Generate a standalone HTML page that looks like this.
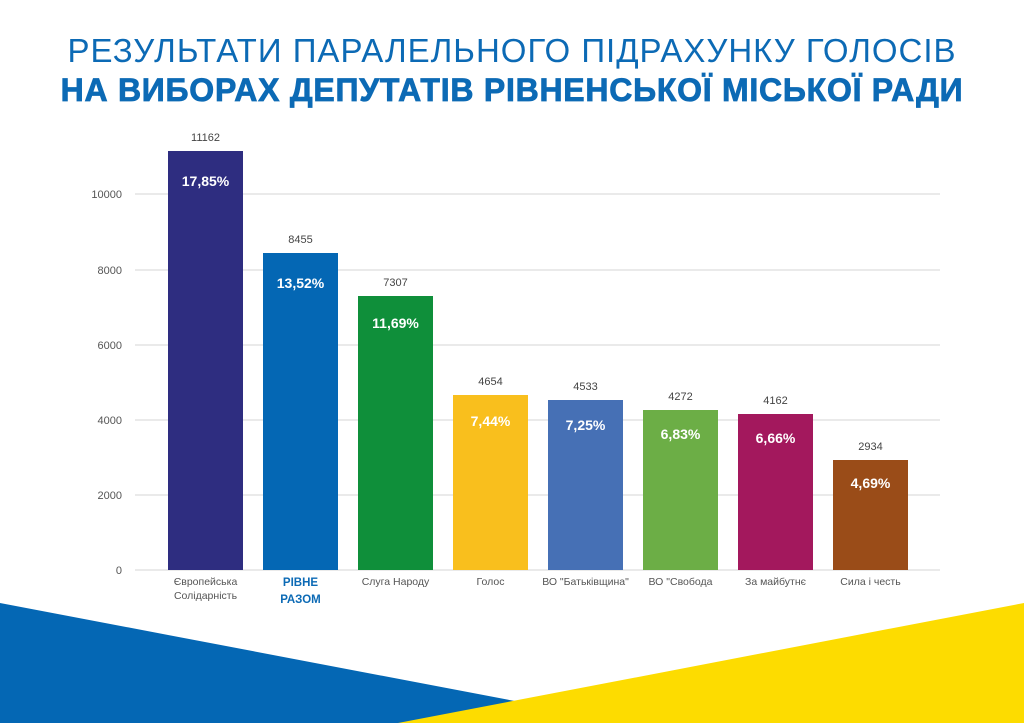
<!DOCTYPE html>
<html><head><meta charset="utf-8"><style>
body{margin:0;background:#fff}
svg{display:block}
text{font-family:"Liberation Sans","DejaVu Sans",sans-serif}
</style></head><body>
<svg width="1024" height="723" viewBox="0 0 1024 723" xmlns="http://www.w3.org/2000/svg">
<rect width="1024" height="723" fill="#fff"/>
<text x="512" y="62" text-anchor="middle" font-size="33" fill="#0c6ab5" letter-spacing="1">РЕЗУЛЬТАТИ ПАРАЛЕЛЬНОГО ПІДРАХУНКУ ГОЛОСІВ</text>
<text x="512" y="101" text-anchor="middle" font-size="32" font-weight="bold" fill="#0c6ab5" stroke="#0c6ab5" stroke-width="0.8" letter-spacing="0.75">НА ВИБОРАХ ДЕПУТАТІВ РІВНЕНСЬКОЇ МІСЬКОЇ РАДИ</text>
<g stroke="#e3e3e3" stroke-width="1.5">
<line x1="135" x2="940" y1="570" y2="570"/>
<line x1="135" x2="940" y1="495" y2="495"/>
<line x1="135" x2="940" y1="420" y2="420"/>
<line x1="135" x2="940" y1="345" y2="345"/>
<line x1="135" x2="940" y1="270" y2="270"/>
<line x1="135" x2="940" y1="194" y2="194"/>
</g>
<g font-size="11" fill="#555" text-anchor="end">
<text x="122" y="574">0</text>
<text x="122" y="499">2000</text>
<text x="122" y="424">4000</text>
<text x="122" y="349">6000</text>
<text x="122" y="274">8000</text>
<text x="122" y="198">10000</text>
</g>
<g>
<rect x="168" y="151" width="75" height="419" fill="#2e2d80"/>
<rect x="263" y="253" width="75" height="317" fill="#0467b4"/>
<rect x="358" y="296" width="75" height="274" fill="#0f8f3a"/>
<rect x="453" y="395" width="75" height="175" fill="#f9bf1d"/>
<rect x="548" y="400" width="75" height="170" fill="#4670b5"/>
<rect x="643" y="410" width="75" height="160" fill="#6cae46"/>
<rect x="738" y="414" width="75" height="156" fill="#a3185d"/>
<rect x="833" y="460" width="75" height="110" fill="#9a4c18"/>
</g>
<g font-size="11" fill="#444" text-anchor="middle">
<text x="205.5" y="141">11162</text>
<text x="300.5" y="243">8455</text>
<text x="395.5" y="286">7307</text>
<text x="490.5" y="385">4654</text>
<text x="585.5" y="390">4533</text>
<text x="680.5" y="400">4272</text>
<text x="775.5" y="404">4162</text>
<text x="870.5" y="450">2934</text>
</g>
<g font-size="14" font-weight="bold" fill="#fff" text-anchor="middle">
<text x="205.5" y="186">17,85%</text>
<text x="300.5" y="288">13,52%</text>
<text x="395.5" y="328">11,69%</text>
<text x="490.5" y="426">7,44%</text>
<text x="585.5" y="430">7,25%</text>
<text x="680.5" y="439">6,83%</text>
<text x="775.5" y="443">6,66%</text>
<text x="870.5" y="488">4,69%</text>
</g>
<g font-size="10.5" fill="#555" text-anchor="middle">
<text x="205.5" y="585">Європейська</text>
<text x="205.5" y="599">Солідарність</text>
<text x="395.5" y="585">Слуга Народу</text>
<text x="490.5" y="585">Голос</text>
<text x="585.5" y="585">ВО "Батьківщина"</text>
<text x="680.5" y="585">ВО "Свобода</text>
<text x="775.5" y="585">За майбутнє</text>
<text x="870.5" y="585">Сила і честь</text>
</g>
<g font-size="11.5" font-weight="bold" fill="#0c6ab5" text-anchor="middle">
<text x="300.5" y="586">РІВНЕ</text>
<text x="300.5" y="603">РАЗОМ</text>
</g>
<polygon points="0,603 520,702 520,723 0,723" fill="#0467b4"/>
<polygon points="398,723 1024,603 1024,723" fill="#fddc00"/>
</svg>
</body></html>
